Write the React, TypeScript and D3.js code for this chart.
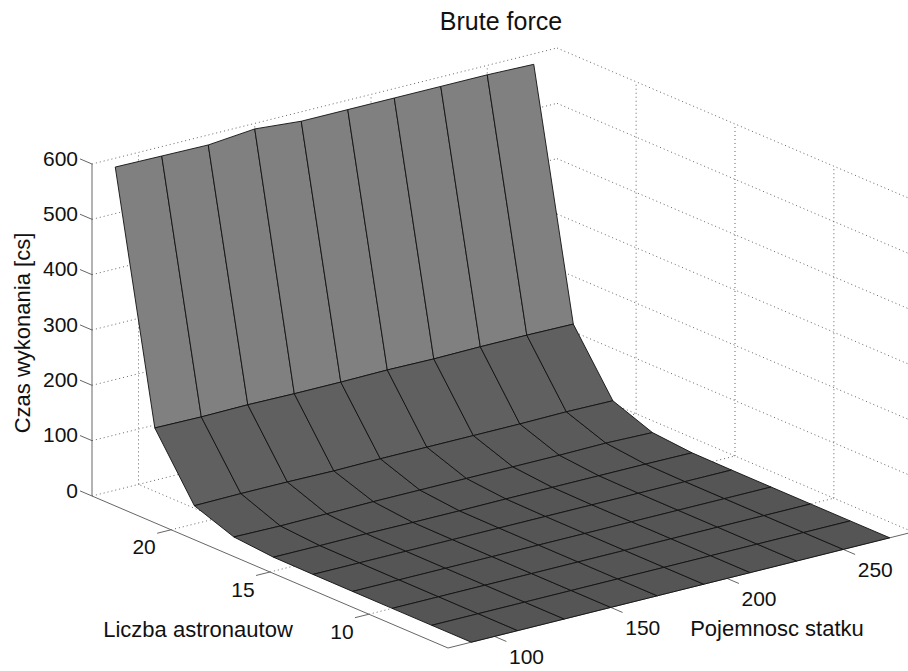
import React, { useEffect, useRef } from 'react';
import * as d3 from 'd3';

// capacity (x), astronauts (y)
const capacities = [90, 110, 130, 150, 170, 190, 210, 230, 250, 270];
const astronauts = [24, 22, 20, 18, 16, 14, 12, 10, 8, 6];

// execution time per astronaut count, back row first
const time24 = [584, 583, 582, 590, 583, 583, 583, 583, 583, 581];
const time22 = [143, 142, 143, 142, 142, 143, 142, 143, 143, 142];
const time20 = [33, 34, 34, 33, 34, 34, 34, 34, 35, 34];
const time18 = [7, 6, 7, 8, 8, 8, 8, 8, 9, 7];
const time16 = [1, 1, 1.5, 1, 1, 1.5, 1.5, 1.5, 1.5, 1];
const time14 = [0.4, 0.4, 0.4, 0.4, 0.4, 0.4, 0.4, 0.4, 0.4, 0.4];
const time12 = [0.2, 0.2, 0.2, 0.2, 0.2, 0.2, 0.2, 0.2, 0.2, 0.2];
const time10 = [0.1, 0.1, 0.1, 0.1, 0.1, 0.1, 0.1, 0.1, 0.1, 0.1];
const time8 = [0, 0, 0, 0, 0, 0, 0, 0, 0, 0];
const time6 = [0, 0, 0, 0, 0, 0, 0, 0, 0, 0];
const timeRows = [time24, time22, time20, time18, time16, time14, time12, time10, time8, time6];

const bandShades = ['#808080', '#606060', '#5a5a5a', '#575757', '#555555', '#555555', '#555555', '#555555', '#555555'];

const xTicks = [100, 150, 200, 250];
const yTicks = [10, 15, 20];
const zTicks = [0, 100, 200, 300, 400, 500, 600];

const title = 'Brute force';
const xLabel = 'Pojemnosc statku';
const yLabel = 'Liczba astronautow';
const zLabel = 'Czas wykonania [cs]';

const xDomain = [80, 280];
const yDomain = [6, 24];
const zDomain = [0, 600];

const App = () => {
  const chartRef = useRef<HTMLDivElement>(null);

  useEffect(() => {
    const width = 908;
    const height = 671;
    const font = '"Liberation Sans", Arial, sans-serif';

    // the view is orthographic, so every axis adds a fixed screen offset
    const xPx = d3.scaleLinear().domain(xDomain).range([0, 465]);
    const xPy = d3.scaleLinear().domain(xDomain).range([0, -116]);
    const yPx = d3.scaleLinear().domain(yDomain).range([0, -356]);
    const yPy = d3.scaleLinear().domain(yDomain).range([0, -152]);
    const zPy = d3.scaleLinear().domain(zDomain).range([0, -332]);

    const project = (x: number, y: number, z: number): [number, number] => [
      448 + xPx(x) + yPx(y),
      648 + xPy(x) + yPy(y) + zPy(z),
    ];

    const [xMin, xMax] = xDomain;
    const [yMin, yMax] = yDomain;
    const [zMin, zMax] = zDomain;

    d3.select(chartRef.current).selectAll('svg').remove();

    const svg = d3.select(chartRef.current)
      .append('svg')
      .attr('width', width)
      .attr('height', height)
      .style('position', 'absolute')
      .style('left', 0)
      .style('top', 0)
      .style('background', '#fff')
      .style('font-family', font);

    const line = d3.line();

    // dotted grid on the floor and the two back walls
    const gridSegments: [number, number, number][][] = [];
    xTicks.forEach(x => {
      gridSegments.push([[x, yMin, zMin], [x, yMax, zMin]]);
      gridSegments.push([[x, yMax, zMin], [x, yMax, zMax]]);
    });
    yTicks.forEach(y => {
      gridSegments.push([[xMin, y, zMin], [xMax, y, zMin]]);
      gridSegments.push([[xMax, y, zMin], [xMax, y, zMax]]);
    });
    zTicks.forEach(z => {
      gridSegments.push([[xMin, yMax, z], [xMax, yMax, z]]);
      gridSegments.push([[xMax, yMax, z], [xMax, yMin, z]]);
    });

    svg.append('g')
      .selectAll('path')
      .data(gridSegments)
      .enter()
      .append('path')
      .attr('d', d => line(d.map(p => project(p[0], p[1], p[2]))))
      .attr('fill', 'none')
      .attr('stroke', '#555')
      .attr('stroke-width', 0.9)
      .attr('stroke-dasharray', '1 3');

    // axis lines
    const axisSegments: [number, number, number][][] = [
      [[xMin, yMin, zMin], [xMax, yMin, zMin]],
      [[xMin, yMin, zMin], [xMin, yMax, zMin]],
      [[xMin, yMax, zMin], [xMin, yMax, zMax]],
    ];
    // ticks run outwards along the other floor axis
    const xTickLen = 5;
    const yTickLen = 6;
    const zTickLen = 11;
    xTicks.forEach(x => axisSegments.push([[x, yMin, zMin], [x, yMin - xTickLen * 0.12, zMin]]));
    yTicks.forEach(y => axisSegments.push([[xMin, y, zMin], [xMin - yTickLen, y, zMin]]));
    zTicks.forEach(z => axisSegments.push([[xMin, yMax, z], [xMin, yMax + zTickLen * 0.055, z]]));

    svg.append('g')
      .selectAll('path')
      .data(axisSegments)
      .enter()
      .append('path')
      .attr('d', d => line(d.map(p => project(p[0], p[1], p[2]))))
      .attr('fill', 'none')
      .attr('stroke', '#666')
      .attr('stroke-width', 1);

    // surface cells, painted from the back row to the front
    const cells = [];
    for (let r = 0; r < astronauts.length - 1; r++) {
      for (let c = 0; c < capacities.length - 1; c++) {
        cells.push({
          shade: bandShades[r],
          points: [
            project(capacities[c], astronauts[r], timeRows[r][c]),
            project(capacities[c + 1], astronauts[r], timeRows[r][c + 1]),
            project(capacities[c + 1], astronauts[r + 1], timeRows[r + 1][c + 1]),
            project(capacities[c], astronauts[r + 1], timeRows[r + 1][c]),
          ],
        });
      }
    }

    svg.append('g')
      .selectAll('path')
      .data(cells)
      .enter()
      .append('path')
      .attr('d', d => line(d.points) + 'Z')
      .attr('fill', d => d.shade)
      .attr('stroke', '#111')
      .attr('stroke-width', 0.9)
      .attr('stroke-linejoin', 'round');

    const addText = (x: number, y: number, text: string, size: number, anchor = 'middle') =>
      svg.append('text')
        .attr('x', x)
        .attr('y', y)
        .attr('text-anchor', anchor)
        .attr('dominant-baseline', 'central')
        .attr('font-size', size)
        .attr('fill', '#111')
        .text(text);

    const tickSize = 21;
    zTicks.forEach(z => {
      const [px, py] = project(xMin, yMax, z);
      addText(px - 14, py - 6, String(z), tickSize, 'end');
    });
    yTicks.forEach(y => {
      const [px, py] = project(xMin, y, zMin);
      addText(px - 27, py + 17, String(y), tickSize);
    });
    xTicks.forEach(x => {
      const [px, py] = project(x, yMin, zMin);
      addText(px + 32, py + 20, String(x), tickSize);
    });

    addText(501, 21, title, 25);
    addText(198, 629, yLabel, 22);
    addText(777, 628, xLabel, 22);
    addText(22, 333, zLabel, 22).attr('transform', 'rotate(-90 22 333)');
  }, []);

  return (
    <div ref={chartRef}></div>
  );
};

export default App;
